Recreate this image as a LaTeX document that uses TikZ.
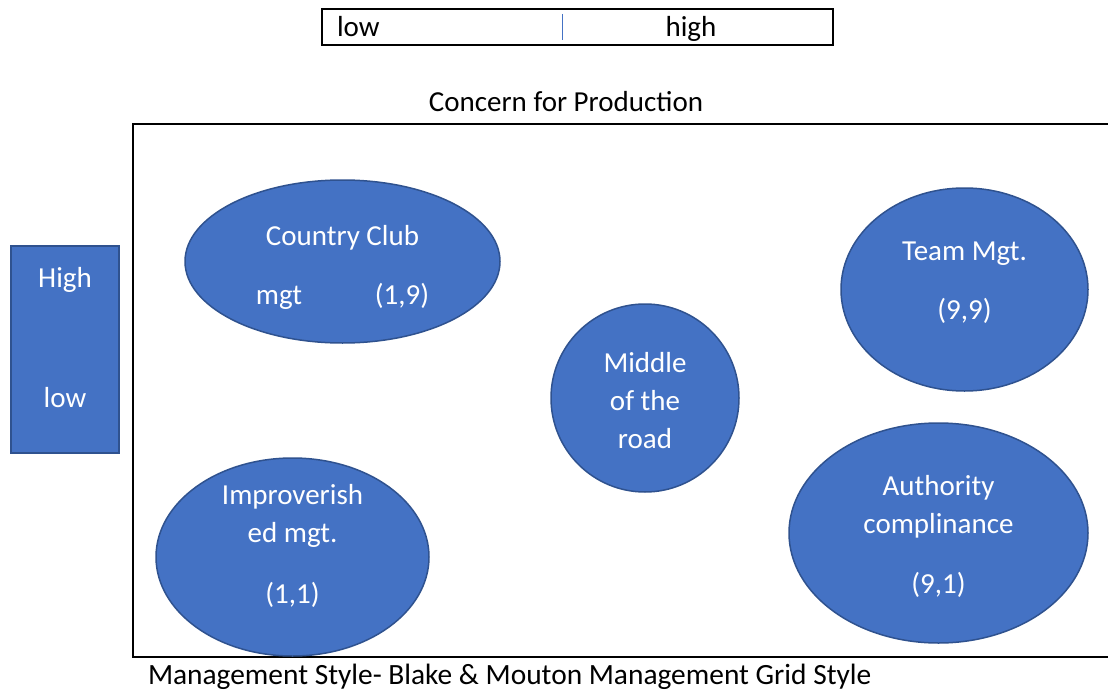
\documentclass[tikz,border=0pt]{standalone}
\usepackage{fontspec}
\setmainfont{Carlito}
\usetikzlibrary{shapes.geometric}
\definecolor{gridblue}{HTML}{4472C4}
\definecolor{gridedge}{HTML}{2F528F}
\begin{document}
\begin{tikzpicture}[x=1pt,y=-1pt,
  every node/.style={inner sep=0pt,outer sep=0pt},
  txt/.style={font=\fontsize{29}{34}\selectfont,anchor=base},
  wtxt/.style={txt,text=white},
  bubble/.style={ellipse,draw=gridedge,line width=1.5pt,fill=gridblue},
  frame/.style={draw=black,line width=2pt}]
\useasboundingbox (0,0) rectangle (1108,690);

% scale for concern for production
\node[draw=black,line width=1.8pt,minimum width=511pt,minimum height=36pt,anchor=north west] (scale) at (322,9) {};
\draw[gridblue,line width=0.8pt] (562,14) coordinate (divtop) -- (562,40) coordinate (divbot);
\node[txt,anchor=base west] (lowx) at (337,37) {low};
\node[txt] (highx) at (691,37) {high};

\node[txt] (xlabel) at (566,112) {Concern for Production};

% grid frame, open on the right
\coordinate (tr) at (1112,124);
\coordinate (tl) at (133,124);
\coordinate (bl) at (133,657);
\coordinate (br) at (1112,657);
\draw[frame] (tr) -- (tl) -- (bl) -- (br);

% concern for people scale
\node[draw=gridedge,line width=2pt,fill=gridblue,minimum width=108pt,minimum height=207pt,anchor=north west] (yscale) at (11,245.5) {};
\node[wtxt] (yhigh) at (65,287) {High};
\node[wtxt] (ylow) at (65,407) {low};

% management styles
\node[bubble,minimum width=315pt,minimum height=163pt] (cc) at (342.5,261.5) {};
\node[wtxt] (cc1) at (342.5,245) {Country Club};
\node[wtxt] (cc2) at (279,304) {mgt};
\node[wtxt] (cc3) at (402,304) {(1,9)};

\node[bubble,minimum width=247pt,minimum height=203pt] (team) at (964.5,289.5) {};
\node[wtxt] (team1) at (964.5,260) {Team Mgt.};
\node[wtxt] (team2) at (964.5,319) {(9,9)};

\node[bubble,minimum width=188pt,minimum height=188pt] (mid) at (645,398) {};
\node[wtxt] (mid1) at (645,372) {Middle};
\node[wtxt] (mid2) at (645,410) {of the};
\node[wtxt] (mid3) at (645,448) {road};

\node[bubble,minimum width=273pt,minimum height=198pt] (imp) at (292.5,557) {};
\node[wtxt] (imp1) at (292.5,504) {Improverish};
\node[wtxt] (imp2) at (292.5,542) {ed mgt.};
\node[wtxt] (imp3) at (292.5,603) {(1,1)};

\node[bubble,minimum width=299pt,minimum height=220pt] (auth) at (938.5,533) {};
\node[wtxt] (auth1) at (938.5,495) {Authority};
\node[wtxt] (auth2) at (938.5,533) {complinance};
\node[wtxt] (auth3) at (938.5,593) {(9,1)};

\node[txt,font=\fontsize{29.4}{34}\selectfont,anchor=base west] (caption) at (148,684) {Management Style- Blake \& Mouton Management Grid Style};
\end{tikzpicture}
\end{document}
